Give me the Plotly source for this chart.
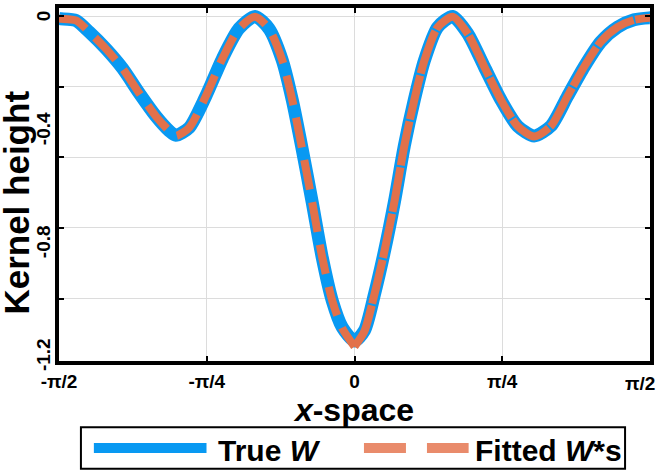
import plotly.graph_objects as go

# ---- data ----
x_pos = [-1.571, -1.561, -1.481, -1.410, -1.322, -1.233, -1.145, -1.056, -0.985, -0.950,
         -0.879, -0.791, -0.702, -0.614, -0.529, -0.455, -0.384, -0.331, -0.278, -0.225,
         -0.171, -0.118, -0.065, 0.0,
         0.053, 0.106, 0.159, 0.212, 0.265, 0.318, 0.372, 0.442, 0.522, 0.602,
         0.690, 0.778, 0.867, 0.955, 1.044, 1.132, 1.221, 1.309, 1.398, 1.486, 1.566, 1.571]

true_w = [-0.008, -0.009, -0.015, -0.056, -0.115, -0.185, -0.272, -0.354, -0.406, -0.422,
          -0.395, -0.284, -0.150, -0.044, -0.001, -0.044, -0.156, -0.296, -0.471, -0.658,
          -0.856, -1.008, -1.102, -1.150,
          -1.113, -0.985, -0.833, -0.658, -0.459, -0.296, -0.156, -0.039, -0.001, -0.062,
          -0.179, -0.296, -0.389, -0.424, -0.389, -0.284, -0.179, -0.091, -0.039, -0.013, -0.006, -0.006]

fitted_ws = [-0.008, -0.009, -0.015, -0.056, -0.115, -0.185, -0.272, -0.354, -0.406, -0.424,
             -0.395, -0.284, -0.150, -0.044, -0.002, -0.044, -0.156, -0.296, -0.471, -0.658,
             -0.856, -1.008, -1.105, -1.170,
             -1.115, -0.985, -0.833, -0.658, -0.459, -0.296, -0.156, -0.039, -0.002, -0.062,
             -0.179, -0.296, -0.389, -0.426, -0.389, -0.284, -0.179, -0.091, -0.039, -0.013, -0.006, -0.006]

x_tick_vals = [-1.5708, -0.7854, 0, 0.7854, 1.5708]
x_tick_text = ["-π/2", "-π/4", "0", "π/4", ""]   # last one drawn below, kept inside the page
y_grid_vals = [0, -0.25, -0.5, -0.75, -1.0]
y_label_vals = [0, -0.4, -0.8, -1.2]
y_label_text = ["0", "-0.4", "-0.8", "-1.2"]

series_names = ["True <i>W</i>", "Fitted <i>W</i>*s"]

BLUE = "#0899F2"
ORANGE = "#E2714A"
FONT = "Liberation Sans"

mid = x_pos.index(0.0)

fig = go.Figure()

fig.add_trace(go.Scatter(
    x=x_pos, y=true_w,
    name=series_names[0],
    mode="lines", showlegend=False,
    line=dict(color=BLUE, width=13, shape="spline", smoothing=0.7),
))

# left half shows clear dashes, right half the gaps nearly close
fig.add_trace(go.Scatter(
    x=x_pos[:mid + 1], y=fitted_ws[:mid + 1],
    name=series_names[1],
    mode="lines", showlegend=False,
    line=dict(color=ORANGE, width=8, dash="30px,13px", shape="spline", smoothing=0.7),
))
fig.add_trace(go.Scatter(
    x=x_pos[mid:], y=fitted_ws[mid:],
    name=series_names[1],
    mode="lines", showlegend=False,
    line=dict(color=ORANGE, width=8, dash="45px,2px", shape="spline", smoothing=0.7),
))

y_range = [-1.221, 0.029]

fig.update_layout(
    width=658, height=472,
    margin=dict(l=59, r=6, t=4, b=111),
    plot_bgcolor="white",
    paper_bgcolor="white",
    font=dict(family=FONT, color="black", weight="bold"),
    xaxis=dict(
        range=[-1.5708, 1.5708],
        tickvals=x_tick_vals, ticktext=x_tick_text,
        tickfont=dict(size=19),
        showgrid=True, gridcolor="#DCDCDC", gridwidth=1,
        zeroline=False,
        showline=True, linecolor="black", linewidth=4, mirror="allticks",
        ticks="inside", ticklen=5, tickwidth=1.5, tickcolor="black",
        title=dict(text="<i>x</i>-space", font=dict(size=32), standoff=0),
    ),
    yaxis=dict(
        range=y_range,
        tickvals=y_grid_vals,
        showticklabels=False,
        showgrid=True, gridcolor="#DCDCDC", gridwidth=1,
        zeroline=False,
        showline=True, linecolor="black", linewidth=4, mirror="allticks",
        ticks="inside", ticklen=5, tickwidth=1.5, tickcolor="black",
    ),
)

# rotated y tick labels, centred on their values
for v, t in zip(y_label_vals, y_label_text):
    fig.add_annotation(
        text=t, textangle=-90, xref="paper", yref="y", x=-0.027, y=v,
        xanchor="center", yanchor="middle", showarrow=False,
        font=dict(size=19, family=FONT, weight="bold"),
    )

fig.add_annotation(
    text="π/2", xref="paper", yref="paper", x=0.9831, y=-0.027,
    xanchor="center", yanchor="top", showarrow=False,
    font=dict(size=19, family=FONT, weight="bold"),
)

fig.add_annotation(
    text="Kernel height", textangle=-90,
    xref="paper", yref="paper", x=-0.0715, y=0.448,
    xanchor="center", yanchor="middle", showarrow=False,
    font=dict(size=35, family=FONT, weight="bold"),
)

# legend drawn by hand: frame, line samples, labels
fig.add_shape(
    type="rect", xref="paper", yref="paper",
    x0=0.0371, x1=0.9578, y0=-0.3053, y1=-0.1877,
    line=dict(color="black", width=2), fillcolor="white", layer="below",
)
fig.add_shape(
    type="line", xref="paper", yref="paper",
    x0=0.0590, x1=0.2496, y0=-0.2465, y1=-0.2465,
    line=dict(color=BLUE, width=10),
)
fig.add_shape(
    type="line", xref="paper", yref="paper",
    x0=0.5160, x1=0.6931, y0=-0.2465, y1=-0.2465,
    line=dict(color="#E98B6B", width=10, dash="42px,21px"),
)
for name, xp in zip(series_names, [0.265, 0.700]):
    fig.add_annotation(
        text=name, xref="paper", yref="paper", x=xp, y=-0.2549,
        xanchor="left", yanchor="middle", showarrow=False,
        font=dict(size=30, family=FONT, weight="bold"),
    )

fig.write_html("out.html", config={"displayModeBar": False},
               post_script="document.body.style.margin='0';")
